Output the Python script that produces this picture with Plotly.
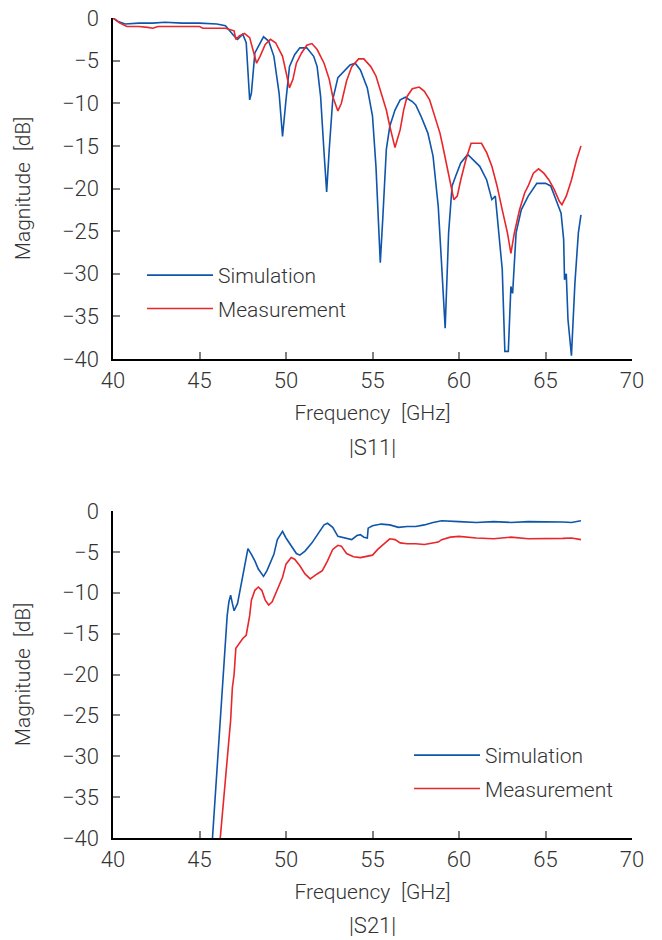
import plotly.graph_objects as go

# ---------------- |S11| data ----------------
s11_sim_f = [40.0, 40.3, 40.7, 41.5, 42.3, 43.0, 44.0, 45.0, 46.0, 46.5, 47.0, 47.2, 47.5, 47.7, 47.9, 48.0,
             48.2, 48.4, 48.7, 49.0, 49.3, 49.6, 49.8, 50.0, 50.2, 50.5, 50.8, 51.2, 51.6, 51.8, 52.0, 52.2,
             52.35, 52.5, 52.7, 53.0, 53.3, 53.7, 54.0, 54.3, 54.7, 55.0, 55.2, 55.45, 55.6, 55.8, 56.0, 56.3,
             56.6, 56.9, 57.3, 57.5, 57.8, 58.2, 58.5, 58.8, 59.0, 59.2, 59.4, 59.6, 59.8, 60.1, 60.5, 60.8,
             61.2, 61.6, 61.9, 62.1, 62.3, 62.5, 62.65, 62.85, 63.0, 63.1, 63.3, 63.6, 64.0, 64.5, 65.0, 65.3,
             65.6, 65.9, 66.05, 66.1, 66.2, 66.3, 66.5, 66.7, 66.9, 67.05]
s11_sim_db = [0.0, -0.4, -0.7, -0.6, -0.6, -0.5, -0.6, -0.6, -0.7, -0.9, -2.1, -2.5, -1.9, -2.9, -9.6, -8.8,
              -4.1, -3.3, -2.2, -2.7, -4.5, -8.8, -13.9, -9.6, -5.7, -4.3, -3.5, -3.5, -4.5, -5.7, -9.2, -15.8,
              -20.4, -15.4, -9.6, -7.0, -6.3, -5.5, -5.3, -6.1, -8.2, -11.5, -17.4, -28.7, -23.3, -15.4, -12.7, -10.8,
              -9.6, -9.3, -9.8, -10.2, -11.5, -13.5, -16.2, -22.1, -29.1, -36.4, -25.2, -19.7, -18.6, -17.0, -16.0, -16.6,
              -17.4, -19.0, -21.3, -20.9, -24.8, -29.5, -39.1, -39.1, -31.5, -32.3, -25.2, -22.5, -20.9, -19.4, -19.4, -19.7,
              -21.3, -22.9, -26.0, -30.7, -30.0, -35.4, -39.6, -31.1, -25.2, -23.1]

s11_meas_f = [40.0, 40.4, 40.8, 41.5, 42.0, 42.3, 42.6, 43.0, 44.0, 45.0, 45.2, 46.0, 46.5, 47.0, 47.1, 47.3,
              47.6, 47.9, 48.1, 48.3, 48.5, 48.8, 49.1, 49.4, 49.8, 50.0, 50.2, 50.4, 50.6, 50.9, 51.2, 51.5,
              51.8, 52.2, 52.5, 52.7, 53.0, 53.2, 53.5, 53.8, 54.2, 54.5, 54.9, 55.2, 55.5, 55.8, 56.0, 56.3,
              56.6, 56.8, 57.0, 57.3, 57.7, 58.0, 58.3, 58.6, 58.9, 59.1, 59.3, 59.5, 59.7, 59.9, 60.1, 60.4,
              60.7, 61.3, 61.6, 61.9, 62.2, 62.5, 62.8, 63.0, 63.2, 63.5, 63.8, 64.0, 64.3, 64.6, 64.9, 65.2,
              65.5, 65.8, 65.95, 66.2, 66.5, 66.8, 67.05]
s11_meas_db = [0.0, -0.6, -1.0, -1.0, -1.1, -1.2, -1.0, -1.0, -1.0, -1.0, -1.2, -1.2, -1.2, -1.5, -2.5, -2.1,
               -1.8, -2.3, -3.7, -5.3, -4.5, -3.1, -2.5, -2.9, -4.5, -6.5, -8.2, -7.2, -5.3, -4.1, -3.2, -3.0,
               -3.7, -5.3, -7.2, -9.2, -10.9, -10.0, -7.4, -5.7, -4.8, -4.8, -5.7, -6.8, -8.8, -10.8, -12.7, -15.2,
               -13.1, -10.8, -9.2, -8.3, -8.1, -8.6, -9.6, -11.5, -13.5, -15.4, -17.4, -19.7, -21.3, -20.9, -19.0, -16.6,
               -14.7, -14.7, -15.8, -17.4, -19.7, -22.5, -25.2, -27.6, -25.2, -22.5, -20.5, -19.7, -18.2, -17.7, -18.2, -19.0,
               -20.1, -21.5, -21.9, -20.9, -19.0, -16.6, -15.0]

# ---------------- |S21| data ----------------
s21_sim_f = [45.75, 45.9, 46.0, 46.2, 46.4, 46.5, 46.6, 46.7, 46.8, 46.9, 47.0, 47.2, 47.5, 47.7, 47.8, 48.0,
             48.2, 48.4, 48.7, 48.9, 49.1, 49.3, 49.5, 49.8, 50.0, 50.3, 50.6, 50.8, 51.1, 51.5, 51.9, 52.2,
             52.4, 52.7, 53.0, 53.4, 53.8, 54.1, 54.3, 54.5, 54.7, 54.75, 55.0, 55.5, 56.0, 56.5, 57.0, 57.5,
             58.0, 58.5, 59.0, 60.0, 61.0, 62.0, 63.0, 64.0, 65.0, 66.0, 66.5, 67.05]
s21_sim_db = [-40.0, -35.1, -32.7, -25.6, -20.0, -16.8, -12.8, -11.1, -10.3, -11.3, -12.2, -11.3, -8.1, -5.7, -4.6, -5.3,
              -6.1, -7.1, -8.0, -7.3, -6.3, -5.3, -3.5, -2.5, -3.3, -4.3, -5.2, -5.4, -4.9, -3.9, -2.7, -1.7,
              -1.5, -2.0, -3.1, -3.3, -3.5, -3.0, -2.9, -3.2, -3.3, -2.1, -1.8, -1.6, -1.7, -2.0, -1.9, -1.9,
              -1.7, -1.4, -1.2, -1.3, -1.4, -1.3, -1.4, -1.3, -1.3, -1.35, -1.4, -1.2]

s21_meas_f = [46.2, 46.4, 46.6, 46.8, 46.9, 47.0, 47.1, 47.3, 47.5, 47.7, 47.9, 48.0, 48.2, 48.4, 48.6, 48.8,
              49.0, 49.2, 49.5, 49.8, 50.0, 50.3, 50.5, 50.8, 51.1, 51.4, 51.8, 52.1, 52.4, 52.7, 53.0, 53.2,
              53.5, 53.9, 54.3, 54.7, 55.0, 55.3, 55.6, 56.0, 56.3, 56.6, 57.0, 57.5, 58.0, 58.5, 58.8, 59.0,
              59.5, 60.0, 61.0, 62.0, 63.0, 64.0, 65.0, 66.0, 66.5, 67.05]
s21_meas_db = [-40.0, -35.1, -30.3, -25.6, -21.6, -20.0, -16.8, -16.2, -15.6, -15.2, -12.8, -10.9, -9.7, -9.3, -9.7, -10.9,
               -11.5, -11.1, -9.7, -8.1, -6.5, -5.7, -5.9, -6.7, -7.7, -8.3, -7.7, -7.3, -6.1, -4.7, -4.2, -4.3,
               -5.2, -5.6, -5.7, -5.5, -5.4, -4.7, -4.1, -3.4, -3.5, -3.9, -4.0, -4.0, -4.1, -3.9, -3.8, -3.5,
               -3.2, -3.1, -3.3, -3.4, -3.2, -3.4, -3.4, -3.35, -3.3, -3.5]

x_ticks = [40, 45, 50, 55, 60, 65, 70]
y_ticks = [0, -5, -10, -15, -20, -25, -30, -35, -40]

BLUE = "#0f55aa"
RED = "#e8262b"
FONT = "Roboto"
TXT = "#333333"

fig = go.Figure()
fig.add_trace(go.Scatter(x=s11_sim_f, y=s11_sim_db, mode="lines", name="Simulation",
                         line=dict(color=BLUE, width=1.6), xaxis="x", yaxis="y",
                         legend="legend", legendgroup="a"))
fig.add_trace(go.Scatter(x=s11_meas_f, y=s11_meas_db, mode="lines", name="Measurement",
                         line=dict(color=RED, width=1.6), xaxis="x", yaxis="y",
                         legend="legend", legendgroup="b"))
fig.add_trace(go.Scatter(x=s21_sim_f, y=s21_sim_db, mode="lines", name="Simulation",
                         line=dict(color=BLUE, width=1.6), xaxis="x2", yaxis="y2",
                         legend="legend2", legendgroup="c"))
fig.add_trace(go.Scatter(x=s21_meas_f, y=s21_meas_db, mode="lines", name="Measurement",
                         line=dict(color=RED, width=1.6), xaxis="x2", yaxis="y2",
                         legend="legend2", legendgroup="d"))

H = 820.0
top_dom = [(838 - 359) / H, 1.0]
bot_dom = [0.0, (838 - 511) / H]

TICKFONT = dict(family=FONT, size=22, color=TXT, weight=300)
TITLEFONT = dict(family=FONT, size=21, color=TXT, weight=300)
LEGFONT = dict(family=FONT, size=21, color=TXT, weight=300)

def xax(anchor):
    return dict(range=[40, 70], tickvals=x_ticks, ticks="inside", ticklen=7, tickwidth=2,
                tickcolor="#808080", showline=True, linecolor="black", linewidth=1.5,
                showgrid=False, zeroline=False, anchor=anchor, automargin=False,
                ticklabelstandoff=1, tickfont=TICKFONT,
                title=dict(text="Frequency\u2002[GHz]", font=TITLEFONT, standoff=13))

def yax(anchor, dom):
    return dict(range=[-40, 0], tickvals=y_ticks,
                ticktext=["0" if v == 0 else "\u2212" + str(-v) for v in y_ticks],
                ticks="inside", ticklen=7, tickwidth=2,
                tickcolor="#808080", showline=True, linecolor="black", linewidth=1.5,
                showgrid=False, zeroline=False, anchor=anchor, domain=dom, automargin=False,
                ticklabelstandoff=8, tickfont=TICKFONT,
                title=dict(text="Magnitude\u2002[dB]", font=TITLEFONT, standoff=26))

fig.update_layout(
    width=662, height=940,
    margin=dict(l=113, r=30, t=18, b=102),
    paper_bgcolor="white", plot_bgcolor="white",
    xaxis=xax("y"), yaxis=yax("x", top_dom),
    xaxis2=xax("y2"), yaxis2=yax("x2", bot_dom),
    legend=dict(x=(142 - 113) / 519, y=(838 - 255) / H, xanchor="left", yanchor="top",
                bgcolor="rgba(0,0,0,0)", font=LEGFONT, itemwidth=66, tracegroupgap=3),
    legend2=dict(x=(409 - 113) / 519, y=(838 - 735) / H, xanchor="left", yanchor="top",
                 bgcolor="rgba(0,0,0,0)", font=LEGFONT, itemwidth=66, tracegroupgap=3),
    annotations=[
        dict(text="|S11|", x=0.5, y=(838 - 447) / H, xref="paper", yref="paper", showarrow=False,
             font=dict(family=FONT, size=22, color=TXT, weight=300), xanchor="center", yanchor="middle"),
        dict(text="|S21|", x=0.5, y=(838 - 925) / H, xref="paper", yref="paper", showarrow=False,
             font=dict(family=FONT, size=22, color=TXT, weight=300), xanchor="center", yanchor="middle"),
    ],
)

fig.write_html("out.html", config={"displayModeBar": False},
               post_script="document.body.style.margin='0';document.body.style.overflow='hidden';")
